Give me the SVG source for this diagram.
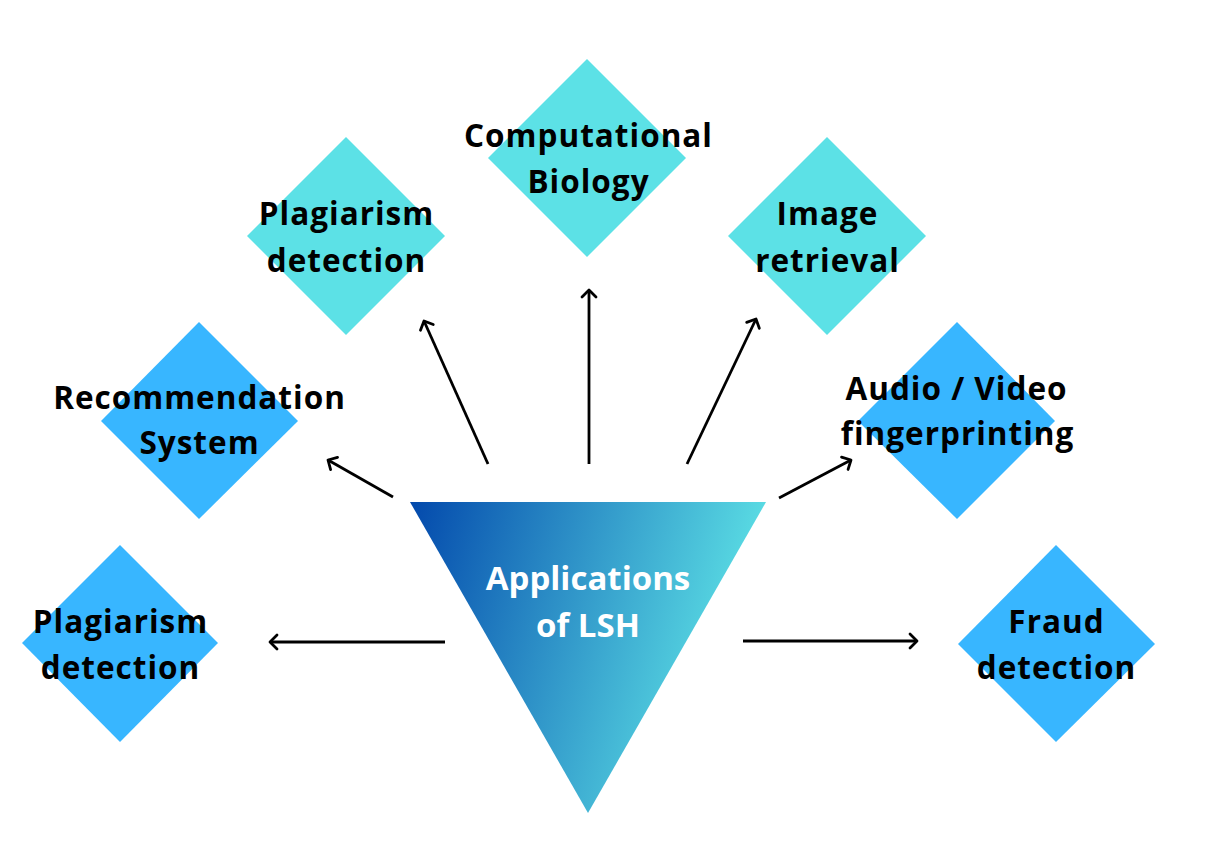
<svg xmlns="http://www.w3.org/2000/svg" width="1210" height="864" viewBox="0 0 1210 864">
<defs>
<linearGradient id="grad" x1="0" y1="0" x2="1" y2="0.25">
<stop offset="0" stop-color="#0349ac"/>
<stop offset="1" stop-color="#5ee3e6"/>
</linearGradient>
<marker id="arr" markerUnits="userSpaceOnUse" markerWidth="20" markerHeight="20" refX="10" refY="10" orient="auto">
<path d="M3,3 L10,10 L3,17" fill="none" stroke="#000" stroke-width="2.8" stroke-linecap="round" stroke-linejoin="round"/>
</marker>
</defs>
<style>
.cyan{fill:#5ce1e6}
.blue{fill:#38b6ff}
.lbl{font-family:"Open Sans","Liberation Sans",sans-serif;font-weight:bold;font-size:31.5px;letter-spacing:1px;fill:#000;text-anchor:middle}
.wlbl{font-family:"Open Sans","Liberation Sans",sans-serif;font-weight:bold;font-size:33px;fill:#fff;text-anchor:middle}
.conn line{stroke:#000;stroke-width:2.8;marker-end:url(#arr)}
</style>
<rect width="1210" height="864" fill="#fff"/>
<g id="center">
<polygon points="410,502 766,502 588,813" fill="url(#grad)"/>
<text class="wlbl" x="588" y="590">Applications</text>
<text class="wlbl" x="588" y="637">of LSH</text>
</g>
<g id="comp-bio">
<polygon class="cyan" points="587,59 686,158 587,257 488,158"/>
<text class="lbl" x="588.5" y="147">Computational</text>
<text class="lbl" x="588.5" y="193">Biology</text>
</g>
<g id="plag-top">
<polygon class="cyan" points="346,137 445,236 346,335 247,236"/>
<text class="lbl" x="346.5" y="225">Plagiarism</text>
<text class="lbl" x="346.5" y="272">detection</text>
</g>
<g id="image-retrieval">
<polygon class="cyan" points="827,137 926,236 827,335 728,236"/>
<text class="lbl" x="827.5" y="225">Image</text>
<text class="lbl" x="827.5" y="272">retrieval</text>
</g>
<g id="recommendation">
<polygon class="blue" points="199,322 298,421 199,519 101,421"/>
<text class="lbl" x="199.5" y="409">Recommendation</text>
<text class="lbl" x="199.5" y="454">System</text>
</g>
<g id="audio-video">
<polygon class="blue" points="957,322 1055,421 957,519 858,421"/>
<text class="lbl" x="956.5" y="400">Audio / Video</text>
<text class="lbl" x="957.5" y="445">fingerprinting</text>
</g>
<g id="plag-bottom">
<polygon class="blue" points="120,545 218,643 120,742 22,643"/>
<text class="lbl" x="120.5" y="633">Plagiarism</text>
<text class="lbl" x="120.5" y="679">detection</text>
</g>
<g id="fraud">
<polygon class="blue" points="1056,545 1155,644 1056,742 958,644"/>
<text class="lbl" x="1056.5" y="633">Fraud</text>
<text class="lbl" x="1056.5" y="679">detection</text>
</g>
<g id="connectors" class="conn">
<line x1="488" y1="464" x2="424" y2="321"/>
<line x1="589" y1="464" x2="589" y2="290"/>
<line x1="687" y1="464" x2="756" y2="319"/>
<line x1="393" y1="497" x2="328" y2="460"/>
<line x1="779" y1="498" x2="851" y2="460"/>
<line x1="445" y1="642" x2="270" y2="642"/>
<line x1="743" y1="641" x2="917" y2="641"/>
</g>
</svg>
